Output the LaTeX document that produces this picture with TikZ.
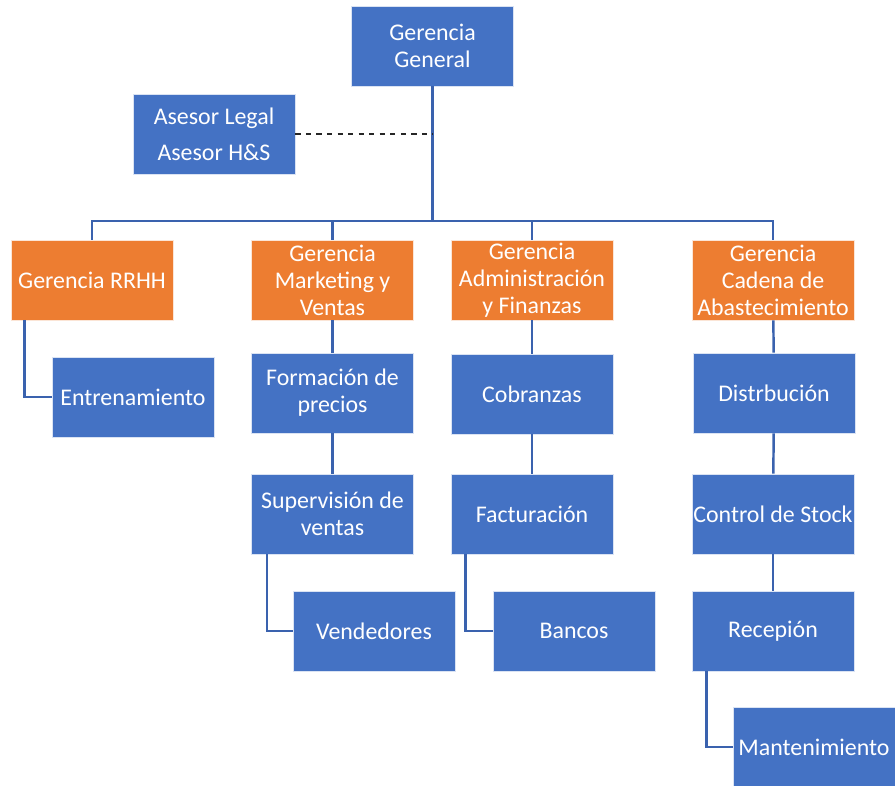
\documentclass[tikz,border=0pt]{standalone}
\usepackage{fontspec}
\setmainfont{Carlito}
\usepackage{tikz}

\definecolor{boxblue}{HTML}{4472C4}
\definecolor{boxorange}{HTML}{ED7D31}
\definecolor{linkblue}{HTML}{3A62AE}

\begin{document}
\begin{tikzpicture}[x=0.02cm, y=-0.02cm]
	\tikzset{every node/.style = {rectangle, fill=boxblue, draw=white!80!boxblue, line width=0.4pt,
		text=white, minimum width=3.24cm, minimum height=1.6cm, align=center, inner sep=0pt,
		font=\fontsize{13.6}{15.4}\selectfont},
		gerencia/.style = {fill=boxorange, draw=white!80!boxorange},
		link/.style = {draw=linkblue, line width=1.4pt}}
	\useasboundingbox (0,0) rectangle (895,786);
	\node (General) at (432.5, 46) {Gerencia\\General};
	\node (Asesor) at (214, 134) {Asesor Legal\\[0.18cm]Asesor H\&S};
	\node [gerencia] (RRHH) at (92, 280) {Gerencia RRHH};
	\node [gerencia] (Marketing) at (332.5, 280) {Gerencia\\Marketing y\\Ventas};
	\node [gerencia] (Admin) at (532, 280) {Gerencia\\Administración\\y Finanzas};
	\node [gerencia] (Cadena) at (773, 280) {Gerencia\\Cadena de\\Abastecimiento};
	\node (Entrenamiento) at (133, 397) {Entrenamiento};
	\node (Formacion) at (332.5, 393) {Formación de\\precios};
	\node (Cobranzas) at (532, 394) {Cobranzas};
	\node (Distribucion) at (774, 393) {Distrbución};
	\node (Supervision) at (332.5, 514) {Supervisión de\\ventas};
	\node (Facturacion) at (532, 514) {Facturación};
	\node (Stock) at (773, 514) {Control de Stock};
	\node (Vendedores) at (374, 631) {Vendedores};
	\node (Bancos) at (574, 631) {Bancos};
	\node (Recepion) at (773, 631) {Recepión};
	\node (Mantenimiento) at (814, 747) {Mantenimiento};
	\coordinate (bus) at (432.5, 221);
	\coordinate (staff) at (432.5, 134);
	\draw [link] (General.south) -- (bus);
	\draw [link] (RRHH.north) |- (bus) -| (Cadena.north);
	\draw [link] (Marketing.north) -- (Marketing.north |- bus);
	\draw [link] (Admin.north) -- (Admin.north |- bus);
	\draw [link, dashed, draw=black!85, line width=0.9pt] (Asesor.east) -- (staff);
	\draw [link] ([xshift=0.28cm]RRHH.south west) |- (Entrenamiento.west);
	\draw [link] (Marketing) -- (Formacion);
	\draw [link] (Formacion) -- (Supervision);
	\draw [link] ([xshift=0.32cm]Supervision.south west) |- (Vendedores.west);
	\draw [link] (Admin) -- (Cobranzas);
	\draw [link] (Cobranzas) -- (Facturacion);
	\draw [link] ([xshift=0.3cm]Facturacion.south west) |- (Bancos.west);
	\draw [link] (Cadena) -- (Distribucion);
	\draw [link] (Distribucion) -- (Stock);
	\draw [link] (Stock) -- (Recepion);
	\draw [link] ([xshift=0.3cm]Recepion.south west) |- (Mantenimiento.west);
\end{tikzpicture}
\end{document}
